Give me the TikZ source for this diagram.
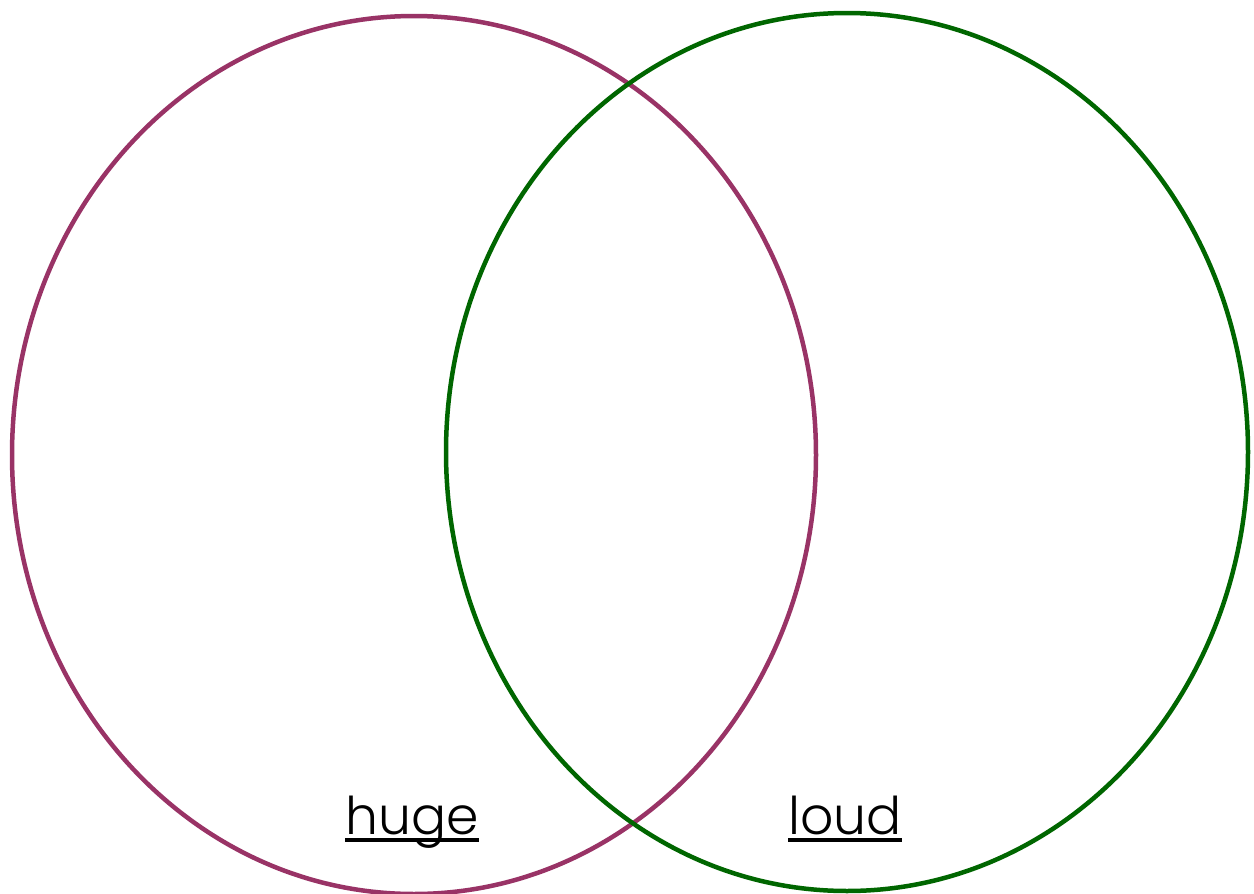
\documentclass[tikz,border=0pt]{standalone}
\usepackage{fontspec}
\setmainfont{Poppins}[UprightFont=* Light]
\definecolor{cmag}{HTML}{993366}
\definecolor{cgrn}{HTML}{006600}
\begin{document}
\begin{tikzpicture}[x=1pt,y=-1pt,
  ring/.style={line width=4.5pt},
  lbl/.style={inner sep=0pt,anchor=base,font=\fontsize{52}{60}\selectfont},
  uline/.style={line width=4pt}]
\useasboundingbox (0,0) rectangle (1254,894);
\clip (0,0) rectangle (1254,894);
\draw[ring,cmag] (414,455) ellipse [x radius=402,y radius=439];
\draw[ring,cgrn] (847,452) ellipse [x radius=401,y radius=439];
\node[lbl] (huge) at (412,834) {huge};
\node[lbl] (loud) at (845,834) {loud};
\draw[uline] ([yshift=-6pt]huge.base west) -- ([yshift=-6pt]huge.base east);
\draw[uline] ([yshift=-6pt]loud.base west) -- ([yshift=-6pt]loud.base east);
\end{tikzpicture}
\end{document}
